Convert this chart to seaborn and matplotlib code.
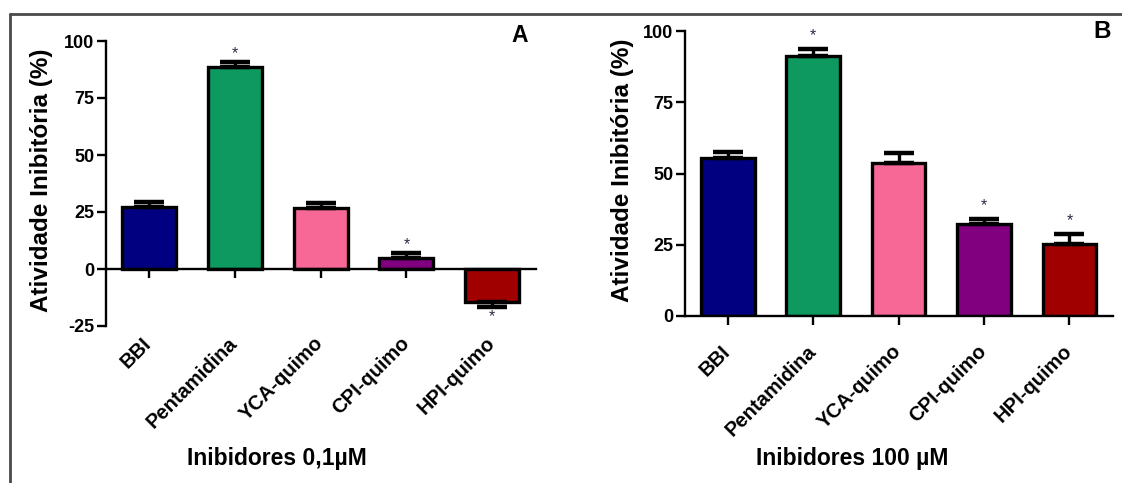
import matplotlib
matplotlib.use("Agg")
import matplotlib.pyplot as plt
from matplotlib.lines import Line2D
from matplotlib.transforms import ScaledTranslation
import seaborn as sns
import pandas as pd

# Inhibitors tested
categories = ["BBI", "Pentamidina", "YCA-quimo", "CPI-quimo", "HPI-quimo"]
bar_colors = ["#000080", "#0E9960", "#F86896", "#800080", "#A00000"]

# Panel A: inhibitors at 0.1 µM (mean and SEM, %)
mean_a = [27.3, 88.7, 26.6, 4.7, -14.3]
sem_a = [2.2, 2.2, 2.3, 2.5, 2.2]
signif_a = [False, True, False, True, True]

# Panel B: inhibitors at 100 µM (mean and SEM, %)
mean_b = [55.3, 91.2, 53.6, 32.2, 25.2]
sem_b = [2.4, 2.4, 3.5, 2.0, 3.5]
signif_b = [False, True, False, True, True]

yticks_a = [-25, 0, 25, 50, 75, 100]
yticks_b = [0, 25, 50, 75, 100]

W, H = 1122, 483

sns.set_style("ticks")
plt.rcParams["font.family"] = ["Liberation Sans", "DejaVu Sans"]
plt.rcParams["font.weight"] = "bold"
plt.rcParams["axes.unicode_minus"] = False
plt.rcParams["text.color"] = "black"
plt.rcParams["xtick.color"] = "black"
plt.rcParams["ytick.color"] = "black"
plt.rcParams["axes.edgecolor"] = "black"


def fx(px):
    return px / W


def fy(py):
    return 1 - py / H


fig = plt.figure(figsize=(W / 100, H / 100), dpi=100)
fig.patch.set_facecolor("white")

# axes boxes in pixels: left, right, top, bottom
ax_a = fig.add_axes([fx(106), fy(326), fx(536) - fx(106), fy(41) - fy(326)])
ax_b = fig.add_axes([fx(685), fy(316), fx(1113) - fx(685), fy(31) - fy(316)])


def draw_panel(ax, means, sems, signif, yticks, ylim, label_pad):
    df = pd.DataFrame({"inibidor": categories, "atividade": means})
    sns.barplot(data=df, x="inibidor", y="atividade", hue="inibidor",
                order=categories, hue_order=categories,
                palette=dict(zip(categories, bar_colors)), legend=False,
                saturation=1, width=0.63, edgecolor="black", linewidth=2.4,
                errorbar=None, ax=ax, zorder=1)
    for i, (m, s, sig) in enumerate(zip(means, sems, signif)):
        if m >= 0:
            yerr = [[0], [s]]
        else:
            yerr = [[s], [0]]
        ax.errorbar([i], [m], yerr=yerr, fmt="none", ecolor="black",
                    elinewidth=2.4, capsize=11, capthick=3.2, zorder=3)
        if sig:
            end = m + s if m >= 0 else m - s
            off = 4.6 * (100 / (ylim[1] - ylim[0])) * (1.2 if m < 0 else 1.0)
            ypos = end + off if m >= 0 else end - off
            ax.text(i, ypos, "*", ha="center", va="center", fontsize=11.5,
                    fontweight="normal", color="#2b2b45", zorder=4)
    ax.set_xlim(-0.5, 4.51)
    ax.set_ylim(*ylim)
    ax.set_yticks(yticks)
    ax.set_xlabel("")
    ax.set_ylabel("")
    for side in ("top", "right"):
        ax.spines[side].set_visible(False)
    ax.spines["left"].set_linewidth(1.7)
    ax.spines["bottom"].set_linewidth(1.7)
    ax.spines["bottom"].set_position(("data", 0))
    ax.tick_params(axis="y", length=6.5, width=1.7, labelsize=13, pad=2)
    ax.tick_params(axis="x", length=6.5, width=1.7, labelsize=14.5,
                   pad=label_pad)
    ax.set_xticks(range(len(categories)))
    ax.set_xticklabels(categories, rotation=45, ha="right",
                       rotation_mode="anchor", fontweight="bold")
    shift = ScaledTranslation(-5 / 72, 0, fig.dpi_scale_trans)
    for t in ax.get_xticklabels():
        t.set_transform(t.get_transform() + shift)
    for t in ax.get_yticklabels():
        t.set_fontweight("bold")
    ax.patch.set_alpha(0)


draw_panel(ax_a, mean_a, sem_a, signif_a, yticks_a, (-25, 100), 40)
draw_panel(ax_b, mean_b, sem_b, signif_b, yticks_b, (0, 100), 12)

# axis titles and panel letters
ylab = "Atividade Inibitória (%)"
fig.text(fx(42), fy(180), ylab, rotation=90, ha="center", va="center",
         fontsize=17.5, fontweight="bold")
fig.text(fx(622), fy(170), ylab, rotation=90, ha="center", va="center",
         fontsize=17.5, fontweight="bold")
fig.text(fx(277), fy(459), "Inibidores 0,1µM", ha="center", va="center",
         fontsize=16.5, fontweight="bold")
fig.text(fx(852), fy(459), "Inibidores 100 µM", ha="center", va="center",
         fontsize=16.5, fontweight="bold")
fig.text(fx(520), fy(35), "A", ha="center", va="center", fontsize=16.5,
         fontweight="bold")
fig.text(fx(1102), fy(32), "B", ha="center", va="center", fontsize=17.5,
         fontweight="bold")

# outer frame lines along the top and left edges
fig.add_artist(Line2D([fx(10), fx(1122)], [fy(14), fy(14)], color="#4a4a4a",
                      linewidth=2.0, transform=fig.transFigure))
fig.add_artist(Line2D([fx(10), fx(10)], [fy(14), fy(483)], color="#4a4a4a",
                      linewidth=2.0, transform=fig.transFigure))

fig.savefig("out.png", dpi=100)
